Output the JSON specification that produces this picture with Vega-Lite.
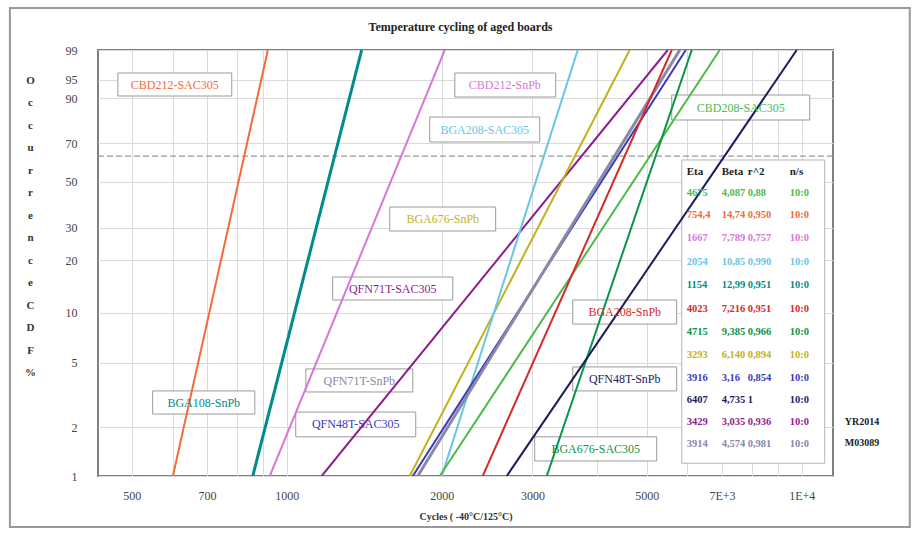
{
  "$schema": "https://vega.github.io/schema/vega-lite/v6.json",
  "width": 735,
  "height": 426,
  "autosize": {"type": "none"},
  "padding": {"left": 98, "top": 50, "right": 87, "bottom": 59},
  "background": "white",
  "title": {"text": "Temperature cycling of aged boards", "font": "Liberation Serif", "fontSize": 12, "fontWeight": "bold", "color": "#222", "anchor": "middle", "baseline": "bottom", "offset": -39, "dx": -5},
  "config": {
    "view": {"stroke": "#808080", "strokeWidth": 2},
    "axis": {"labelFont": "Liberation Serif", "labelFontSize": 12, "labelColor": "#444", "gridColor": "#dadada", "gridWidth": 1, "domain": false, "ticks": false, "titleFont": "Liberation Serif"}
  },
  "datasets": {
    "frame": [{"x1": 290, "x2": 16210, "p1": 99.978, "p2": 0.481}],
    "ref": [{"pct": 63.21}],
    "lines": [
      {"series": "CBD212-SAC305", "cycles": 601, "pct": 1}, {"series": "CBD212-SAC305", "cycles": 919, "pct": 99},
      {"series": "BGA108-SnPb", "cycles": 859, "pct": 1}, {"series": "BGA108-SnPb", "cycles": 1398, "pct": 99},
      {"series": "CBD212-SnPb", "cycles": 927, "pct": 1}, {"series": "CBD212-SnPb", "cycles": 2027, "pct": 99},
      {"series": "QFN71T-SAC305", "cycles": 1169, "pct": 1}, {"series": "QFN71T-SAC305", "cycles": 5493, "pct": 99},
      {"series": "BGA676-SnPb", "cycles": 1733, "pct": 1}, {"series": "BGA676-SnPb", "cycles": 4634, "pct": 99},
      {"series": "BGA208-SAC305", "cycles": 2000, "pct": 1}, {"series": "BGA208-SAC305", "cycles": 3673, "pct": 99},
      {"series": "QFN48T-SAC305", "cycles": 1757, "pct": 1}, {"series": "QFN48T-SAC305", "cycles": 5955, "pct": 99},
      {"series": "QFN71T-SnPb", "cycles": 1796, "pct": 1}, {"series": "QFN71T-SnPb", "cycles": 5797, "pct": 99},
      {"series": "CBD208-SAC305", "cycles": 1982, "pct": 1}, {"series": "CBD208-SAC305", "cycles": 6930, "pct": 99},
      {"series": "BGA208-SnPb", "cycles": 2402, "pct": 1}, {"series": "BGA208-SnPb", "cycles": 5592, "pct": 99},
      {"series": "BGA676-SAC305", "cycles": 3198, "pct": 1}, {"series": "BGA676-SAC305", "cycles": 6115, "pct": 99},
      {"series": "QFN48T-SnPb", "cycles": 2674, "pct": 1}, {"series": "QFN48T-SnPb", "cycles": 9779, "pct": 99}
    ],
    "labels": [
      {"series": "CBD212-SAC305", "x1": 470, "x2": 782, "p1": 96.34, "p2": 90.71, "xc": 606, "pc": 93.9},
      {"series": "CBD212-SnPb", "x1": 2120, "x2": 3329, "p1": 96.34, "p2": 90.39, "xc": 2651, "pc": 93.8},
      {"series": "BGA208-SAC305", "x1": 1895, "x2": 3099, "p1": 82.73, "p2": 70.66, "xc": 2424, "pc": 76.95},
      {"series": "CBD208-SAC305", "x1": 5592, "x2": 10364, "p1": 91.02, "p2": 81.41, "xc": 7613, "pc": 86.65},
      {"series": "BGA676-SnPb", "x1": 1585, "x2": 2545, "p1": 38.21, "p2": 28.89, "xc": 2009, "pc": 33.3},
      {"series": "QFN71T-SAC305", "x1": 1228, "x2": 2101, "p1": 16.13, "p2": 11.87, "xc": 1606, "pc": 13.85},
      {"series": "BGA208-SnPb", "x1": 3592, "x2": 5717, "p1": 11.87, "p2": 8.55, "xc": 4532, "pc": 10.1},
      {"series": "QFN71T-SnPb", "x1": 1089, "x2": 1757, "p1": 4.58, "p2": 3.31, "xc": 1383, "pc": 3.89},
      {"series": "BGA108-SnPb", "x1": 549, "x2": 867, "p1": 3.36, "p2": 2.42, "xc": 690, "pc": 2.85},
      {"series": "QFN48T-SAC305", "x1": 1041, "x2": 1780, "p1": 2.49, "p2": 1.75, "xc": 1361, "pc": 2.09},
      {"series": "QFN48T-SnPb", "x1": 3592, "x2": 5717, "p1": 4.71, "p2": 3.36, "xc": 4532, "pc": 3.97},
      {"series": "BGA676-SAC305", "x1": 3030, "x2": 5228, "p1": 1.75, "p2": 1.24, "xc": 3981, "pc": 1.47}
    ],
    "tablebox": [{"x1": 5848, "x2": 11080, "p1": 61.2, "p2": 1.2}],
    "header": [{"eta": "Eta", "beta": "Beta", "r2": "r^2", "ns": "n/s", "pct": 54.9}],
    "table": [
      {"series": "CBD208-SAC305", "eta": "4675", "beta": "4,087", "r2": "0,88", "ns": "10:0", "pct": 44.5},
      {"series": "CBD212-SAC305", "eta": "754,4", "beta": "14,74", "r2": "0,950", "ns": "10:0", "pct": 34.9},
      {"series": "CBD212-SnPb", "eta": "1667", "beta": "7,789", "r2": "0,757", "ns": "10:0", "pct": 26.5},
      {"series": "BGA208-SAC305", "eta": "2054", "beta": "10,85", "r2": "0,990", "ns": "10:0", "pct": 19.6},
      {"series": "BGA108-SnPb", "eta": "1154", "beta": "12,99", "r2": "0,951", "ns": "10:0", "pct": 14.5},
      {"series": "BGA208-SnPb", "eta": "4023", "beta": "7,216", "r2": "0,951", "ns": "10:0", "pct": 10.5},
      {"series": "BGA676-SAC305", "eta": "4715", "beta": "9,385", "r2": "0,966", "ns": "10:0", "pct": 7.66},
      {"series": "BGA676-SnPb", "eta": "3293", "beta": "6,140", "r2": "0,894", "ns": "10:0", "pct": 5.57},
      {"series": "QFN48T-SAC305", "eta": "3916", "beta": "3,16", "r2": "0,854", "ns": "10:0", "pct": 4.03},
      {"series": "QFN48T-SnPb", "eta": "6407", "beta": "4,735", "r2": "1", "ns": "10:0", "pct": 2.95},
      {"series": "QFN71T-SAC305", "eta": "3429", "beta": "3,035", "r2": "0,936", "ns": "10:0", "pct": 2.16},
      {"series": "QFN71T-SnPb", "eta": "3914", "beta": "4,574", "r2": "0,981", "ns": "10:0", "pct": 1.58}
    ],
    "notes": [{"note": "YR2014", "cycles": 12118, "pct": 2.16}, {"note": "M03089", "cycles": 12118, "pct": 1.6}]
  },
  "layer": [
    {
      "data": {"name": "frame"},
      "transform": [
        {"calculate": "log(-log(1-datum.p1/100))", "as": "W1"},
        {"calculate": "log(-log(1-datum.p2/100))", "as": "W2"}
      ],
      "mark": {"type": "rect", "fill": null, "stroke": "#999999", "strokeWidth": 2, "clip": false},
      "encoding": {
        "x": {"field": "x1", "type": "quantitative",
          "scale": {"type": "log", "domain": [430, 11500], "nice": false},
          "axis": {"values": [500, 600, 700, 800, 900, 1000, 2000, 3000, 4000, 5000, 6000, 7000, 8000, 9000, 10000],
            "labelExpr": "datum.value == 7000 ? '7E+3' : datum.value == 10000 ? '1E+4' : (indexof([500, 700, 1000, 2000, 3000, 5000], datum.value) >= 0 ? '' + datum.value : '')",
            "labelPadding": 14, "labelFlush": false, "labelOverlap": false,
            "title": "Cycles ( -40°C/125°C)", "titleFontSize": 10, "titleFontWeight": "bold", "titleColor": "#333", "titlePadding": 10}},
        "x2": {"field": "x2"},
        "y": {"field": "W1", "type": "quantitative",
          "scale": {"domain": [-4.6001, 1.5272], "nice": false, "zero": false},
          "axis": {"values": [-4.6001, -3.902, -2.9702, -2.2504, -1.4999, -1.0309, -0.3665, 0.1856, 0.834, 1.0972, 1.5272],
            "labelExpr": "format(100 * (1 - exp(-exp(datum.value))), '.0f')",
            "labelPadding": 21, "labelOverlap": false, "labelFlush": false,
            "title": ["O", "c", "c", "u", "r", "r", "e", "n", "c", "e", " ", "C", "D", "F", " ", "%"],
            "titleAngle": 0, "titleX": -68, "titleY": 24, "titleAlign": "center", "titleBaseline": "top",
            "titleLineHeight": 22.5, "titleFontSize": 11, "titleFontWeight": "bold", "titleColor": "#333"}},
        "y2": {"field": "W2"}
      }
    },
    {
      "data": {"name": "ref"},
      "transform": [{"calculate": "log(-log(1-datum.pct/100))", "as": "W"}],
      "mark": {"type": "rule", "color": "#9a9a9a", "strokeDash": [6, 3], "strokeWidth": 1.2},
      "encoding": {"y": {"field": "W", "type": "quantitative"}}
    },
    {
      "data": {"name": "labels"},
      "transform": [
        {"calculate": "log(-log(1-datum.p1/100))", "as": "W1"},
        {"calculate": "log(-log(1-datum.p2/100))", "as": "W2"}
      ],
      "mark": {"type": "rect", "fill": "white", "stroke": "#9a9a9a", "strokeWidth": 1},
      "encoding": {
        "x": {"field": "x1", "type": "quantitative"}, "x2": {"field": "x2"},
        "y": {"field": "W1", "type": "quantitative"}, "y2": {"field": "W2"}
      }
    },
    {
      "data": {"name": "tablebox"},
      "transform": [
        {"calculate": "log(-log(1-datum.p1/100))", "as": "W1"},
        {"calculate": "log(-log(1-datum.p2/100))", "as": "W2"}
      ],
      "mark": {"type": "rect", "fill": "white", "stroke": "#b5b5b5", "strokeWidth": 1},
      "encoding": {
        "x": {"field": "x1", "type": "quantitative"}, "x2": {"field": "x2"},
        "y": {"field": "W1", "type": "quantitative"}, "y2": {"field": "W2"}
      }
    },
    {
      "data": {"name": "lines"},
      "transform": [{"calculate": "log(-log(1-datum.pct/100))", "as": "W"}],
      "mark": {"type": "line", "clip": true},
      "encoding": {
        "x": {"field": "cycles", "type": "quantitative"},
        "y": {"field": "W", "type": "quantitative"},
        "color": {"field": "series", "type": "nominal", "legend": null,
          "scale": {
            "domain": ["CBD208-SAC305", "CBD212-SAC305", "CBD212-SnPb", "BGA208-SAC305", "BGA108-SnPb", "BGA208-SnPb", "BGA676-SAC305", "BGA676-SnPb", "QFN48T-SAC305", "QFN48T-SnPb", "QFN71T-SAC305", "QFN71T-SnPb"],
            "range": ["#4cbb4c", "#f26b3a", "#d678d6", "#66c6e4", "#008c8c", "#d42a2a", "#0a9448", "#c2b21a", "#3a3ab8", "#1c1c5e", "#8e1e8e", "#8888a8"]}},
        "strokeWidth": {"condition": {"test": "datum.series === 'BGA108-SnPb' || datum.series === 'QFN71T-SnPb'", "value": 3}, "value": 2}
      }
    },
    {
      "data": {"name": "labels"},
      "transform": [{"calculate": "log(-log(1-datum.pc/100))", "as": "Wc"}],
      "mark": {"type": "text", "font": "Liberation Serif", "fontSize": 12, "align": "center", "baseline": "middle"},
      "encoding": {
        "x": {"field": "xc", "type": "quantitative"},
        "y": {"field": "Wc", "type": "quantitative"},
        "text": {"field": "series"},
        "color": {"field": "series", "type": "nominal", "legend": null}
      }
    },
    {
      "data": {"name": "header"},
      "transform": [{"calculate": "log(-log(1-datum.pct/100))", "as": "W"}],
      "layer": [
        {"mark": {"type": "text", "font": "Liberation Serif", "fontSize": 11, "fontWeight": "bold", "align": "left", "baseline": "middle", "color": "#222"},
          "encoding": {"x": {"datum": 5981, "type": "quantitative"}, "y": {"field": "W", "type": "quantitative"}, "text": {"field": "eta"}}},
        {"mark": {"type": "text", "font": "Liberation Serif", "fontSize": 11, "fontWeight": "bold", "align": "left", "baseline": "middle", "color": "#222"},
          "encoding": {"x": {"datum": 6993, "type": "quantitative"}, "y": {"field": "W", "type": "quantitative"}, "text": {"field": "beta"}}},
        {"mark": {"type": "text", "font": "Liberation Serif", "fontSize": 11, "fontWeight": "bold", "align": "left", "baseline": "middle", "color": "#222"},
          "encoding": {"x": {"datum": 7855, "type": "quantitative"}, "y": {"field": "W", "type": "quantitative"}, "text": {"field": "r2"}}},
        {"mark": {"type": "text", "font": "Liberation Serif", "fontSize": 11, "fontWeight": "bold", "align": "left", "baseline": "middle", "color": "#222"},
          "encoding": {"x": {"datum": 9478, "type": "quantitative"}, "y": {"field": "W", "type": "quantitative"}, "text": {"field": "ns"}}}
      ]
    },
    {
      "data": {"name": "table"},
      "transform": [{"calculate": "log(-log(1-datum.pct/100))", "as": "W"}],
      "layer": [
        {"mark": {"type": "text", "font": "Liberation Serif", "fontSize": 10.5, "fontWeight": "bold", "align": "left", "baseline": "middle"},
          "encoding": {"x": {"datum": 5981, "type": "quantitative"}, "y": {"field": "W", "type": "quantitative"}, "text": {"field": "eta"}, "color": {"field": "series", "type": "nominal", "legend": null}}},
        {"mark": {"type": "text", "font": "Liberation Serif", "fontSize": 10.5, "fontWeight": "bold", "align": "left", "baseline": "middle"},
          "encoding": {"x": {"datum": 6993, "type": "quantitative"}, "y": {"field": "W", "type": "quantitative"}, "text": {"field": "beta"}, "color": {"field": "series", "type": "nominal", "legend": null}}},
        {"mark": {"type": "text", "font": "Liberation Serif", "fontSize": 10.5, "fontWeight": "bold", "align": "left", "baseline": "middle"},
          "encoding": {"x": {"datum": 7855, "type": "quantitative"}, "y": {"field": "W", "type": "quantitative"}, "text": {"field": "r2"}, "color": {"field": "series", "type": "nominal", "legend": null}}},
        {"mark": {"type": "text", "font": "Liberation Serif", "fontSize": 10.5, "fontWeight": "bold", "align": "left", "baseline": "middle"},
          "encoding": {"x": {"datum": 9478, "type": "quantitative"}, "y": {"field": "W", "type": "quantitative"}, "text": {"field": "ns"}, "color": {"field": "series", "type": "nominal", "legend": null}}}
      ]
    },
    {
      "data": {"name": "notes"},
      "transform": [{"calculate": "log(-log(1-datum.pct/100))", "as": "W"}],
      "mark": {"type": "text", "font": "Liberation Serif", "fontSize": 10, "fontWeight": "bold", "align": "left", "baseline": "middle", "color": "#222", "clip": false},
      "encoding": {
        "x": {"field": "cycles", "type": "quantitative"},
        "y": {"field": "W", "type": "quantitative"},
        "text": {"field": "note"}
      }
    }
  ]
}
